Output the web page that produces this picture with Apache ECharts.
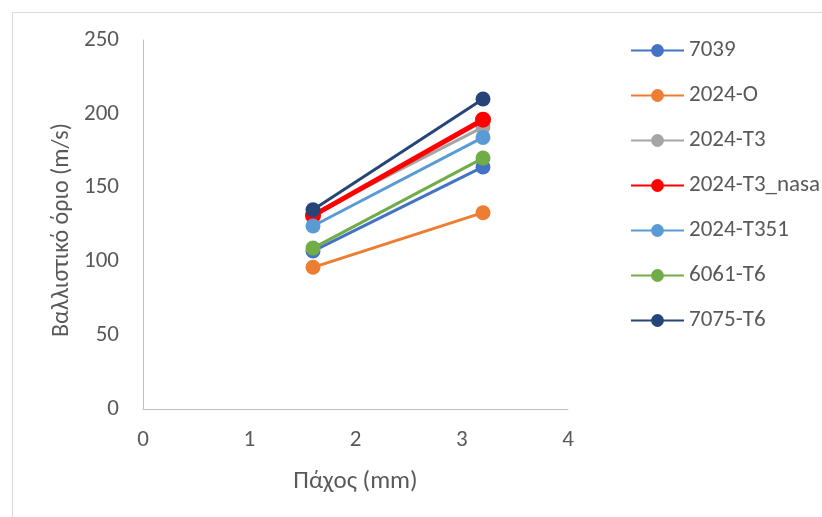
<!DOCTYPE html>
<html>
<head>
<meta charset="utf-8">
<script src="https://cdn.jsdelivr.net/npm/echarts@6/dist/echarts.min.js"></script>
<style>html,body{margin:0;padding:0;background:#fff}#c{width:822px;height:517px}</style>
</head>
<body>
<div id="c"></div>
<script>
const thickness = [1.6, 3.2];
const seriesNames = ['7039', '2024-O', '2024-T3', '2024-T3_nasa', '2024-T351', '6061-T6', '7075-T6'];
const v7039 = [107, 164];
const v2024O = [96, 133];
const v2024T3 = [132, 191];
const v2024T3nasa = [131, 196];
const v2024T351 = [124, 184];
const v6061T6 = [109, 170];
const v7075T6 = [135, 210];
const xTicks = [0, 1, 2, 3, 4];
const yTicks = [0, 50, 100, 150, 200, 250];
const xTitle = 'Πάχος (mm)';
const yTitle = 'Βαλλιστικό όριο (m/s)';

const allValues = [v7039, v2024O, v2024T3, v2024T3nasa, v2024T351, v6061T6, v7075T6];
const colors = ['#4472C4', '#ED7D31', '#A5A5A5', '#FF0000', '#5B9BD5', '#70AD47', '#264478'];
const font = 'Carlito, Open Sans, Liberation Sans, sans-serif';

const chart = echarts.init(document.getElementById('c'), null, {renderer: 'canvas'});
chart.setOption({
  animation: false,
  backgroundColor: '#fff',
  graphic: [{
    type: 'rect', left: 10, top: 10,
    shape: {width: 830, height: 530},
    style: {fill: 'none', stroke: '#D9D9D9', lineWidth: 1}
  }, {
    type: 'text', x: 62, y: 230, rotation: Math.PI / 2,
    style: {
      text: yTitle, fill: '#595959', font: '24px ' + font,
      textAlign: 'center', textVerticalAlign: 'middle'
    }
  }],
  grid: {left: 143, right: 254, top: 40, bottom: 108},
  legend: {
    orient: 'vertical', left: 630, top: 39, padding: 0,
    itemWidth: 53, itemHeight: 16, itemGap: 22,
    textStyle: {fontSize: 23, color: '#595959', fontFamily: font},
    data: seriesNames
  },
  xAxis: {
    type: 'value', min: xTicks[0], max: xTicks[xTicks.length - 1], interval: 1,
    name: xTitle, nameLocation: 'middle', nameGap: 60,
    nameTextStyle: {fontSize: 25, color: '#595959', fontFamily: font},
    axisLine: {show: true, lineStyle: {color: '#BFBFBF', width: 1}},
    axisTick: {show: false},
    splitLine: {show: false},
    axisLabel: {fontSize: 23, color: '#595959', fontFamily: font, margin: 20}
  },
  yAxis: {
    type: 'value', min: yTicks[0], max: yTicks[yTicks.length - 1], interval: 50,
    axisLine: {show: true, lineStyle: {color: '#BFBFBF', width: 1}},
    axisTick: {show: false},
    splitLine: {show: false},
    axisLabel: {fontSize: 23, color: '#595959', fontFamily: font, margin: 24}
  },
  series: seriesNames.map((n, i) => ({
    name: n, type: 'line',
    data: thickness.map((x, j) => [x, allValues[i][j]]),
    symbol: 'circle',
    symbolSize: n === '2024-T3_nasa' ? 16 : 15,
    lineStyle: {color: colors[i], width: n === '2024-T3_nasa' ? 5 : 3},
    itemStyle: {color: colors[i]},
    z: 2 + i
  }))
});
</script>
</body>
</html>
